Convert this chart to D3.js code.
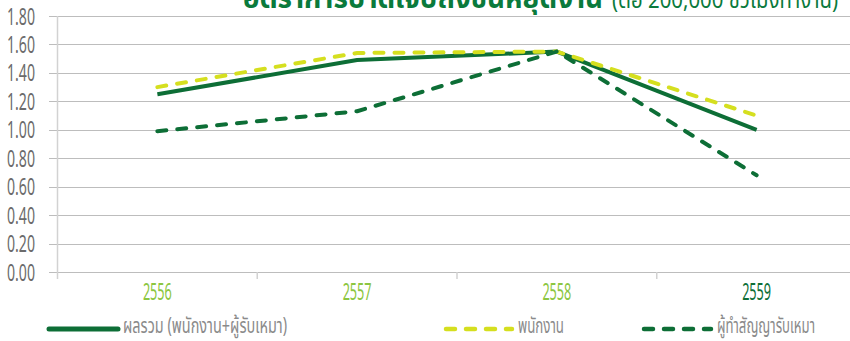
<!DOCTYPE html>
<html><head><meta charset="utf-8">
<script src="https://cdn.jsdelivr.net/npm/d3@7"></script>
<style>body{margin:0;background:#fff} svg{display:block}</style>
</head><body><svg id="c" width="850" height="341"></svg>
<script>
const years = ["2556", "2557", "2558", "2559"];
const total = [1.25, 1.49, 1.55, 1.00];
const employees = [1.30, 1.54, 1.55, 1.10];
const contractors = [0.99, 1.13, 1.55, 0.68];
const yTicks = [0, 0.2, 0.4, 0.6, 0.8, 1.0, 1.2, 1.4, 1.6, 1.8];
const seriesNames = ["ผลรวม (พนักงาน+ผู้รับเหมา)", "พนักงาน", "ผู้ทำสัญญารับเหมา"];
const titleMain = "อัตราการบาดเจ็บถึงขั้นหยุดงาน";
const titleSub = "(ต่อ 200,000 ชั่วโมงทำงาน)";

const DARK = "#0d6e36", YEL = "#d5df1f", LIGHTG = "#8cc641";
const FONT = "'Noto Sans Thai','Tlwg Typist','Loma','Garuda','Waree','Noto Sans','DejaVu Sans',sans-serif";

const svg = d3.select("#c");
const x = d3.scaleBand().domain(years).range([57.5, 856.5]);
const y = d3.scaleLinear().domain([0, 1.8]).range([272, 16]);

// title (cut at top)
svg.append("text").attr("x", 243).attr("y", 8).attr("font-family", FONT).attr("font-weight", "bold")
  .attr("font-size", 28).attr("fill", "#0a7a3c").attr("textLength", 360).attr("lengthAdjust", "spacingAndGlyphs")
  .text(titleMain);
svg.append("text").attr("x", 612).attr("y", 8).attr("font-family", FONT)
  .attr("font-size", 23).attr("fill", "#0a7a3c").attr("textLength", 226).attr("lengthAdjust", "spacingAndGlyphs")
  .text(titleSub);

// gridlines
svg.append("g").selectAll("line").data(yTicks).join("line")
  .attr("x1", 49).attr("x2", 850).attr("y1", d => Math.round(y(d)) + 0.5).attr("y2", d => Math.round(y(d)) + 0.5)
  .attr("stroke", "#bdbdbd").attr("stroke-width", 1);

// y labels
svg.append("g").selectAll("text").data(yTicks).join("text")
  .attr("x", 35).attr("y", d => y(d) + 8.5).attr("text-anchor", "end")
  .attr("font-family", FONT).attr("font-size", 24).attr("fill", "#6b6b6b")
  .attr("textLength", 28).attr("lengthAdjust", "spacingAndGlyphs")
  .text(d => d3.format(".2f")(d));

// y axis line
svg.append("line").attr("x1", 57.5).attr("x2", 57.5).attr("y1", 16).attr("y2", 279)
  .attr("stroke", "#d2d2d2").attr("stroke-width", 1.5);

// x ticks
const bounds = years.slice(1).map(d => x(d));
bounds.push(x.range()[1]);
svg.append("g").selectAll("line").data(bounds).join("line")
  .attr("x1", d => d).attr("x2", d => d).attr("y1", 272).attr("y2", 279)
  .attr("stroke", "#d2d2d2").attr("stroke-width", 1.5);

// x labels
svg.append("g").selectAll("text").data(years).join("text")
  .attr("x", d => x(d) + x.bandwidth() / 2).attr("y", 300).attr("text-anchor", "middle")
  .attr("font-family", FONT).attr("font-size", 24)
  .attr("fill", (d, i) => i === years.length - 1 ? DARK : LIGHTG)
  .attr("textLength", 29).attr("lengthAdjust", "spacingAndGlyphs")
  .text(d => d);

const line = d3.line().x((d, i) => x(years[i]) + x.bandwidth() / 2).y(d => y(d));
const series = [
  {vals: total, color: DARK, dash: null},
  {vals: employees, color: YEL, dash: "9,11"},
  {vals: contractors, color: DARK, dash: "9,11"}
];
svg.append("g").selectAll("path").data(series).join("path")
  .attr("d", d => line(d.vals)).attr("fill", "none")
  .attr("stroke", d => d.color).attr("stroke-width", 4)
  .attr("stroke-dasharray", d => d.dash)
  .attr("stroke-linecap", d => d.dash ? "round" : "butt")
  .attr("stroke-linejoin", "round");

// legend
const legend = [
  {x1: 49, x2: 118, tx: 123, tw: 164},
  {x1: 446, x2: 512, tx: 518, tw: 46},
  {x1: 644, x2: 711, tx: 717, tw: 98}
];
const lg = svg.append("g");
legend.forEach((l, i) => {
  lg.append("line").attr("x1", l.x1).attr("x2", l.x2).attr("y1", 329).attr("y2", 329)
    .attr("stroke", series[i].color).attr("stroke-width", i === 0 ? 5 : 4.5)
    .attr("stroke-dasharray", series[i].dash).attr("stroke-linecap", "round");
  lg.append("text").attr("x", l.tx).attr("y", 333).attr("font-family", FONT).attr("font-size", 22)
    .attr("fill", "#8a8a8a").attr("textLength", l.tw).attr("lengthAdjust", "spacingAndGlyphs")
    .text(seriesNames[i]);
});
</script></body></html>
